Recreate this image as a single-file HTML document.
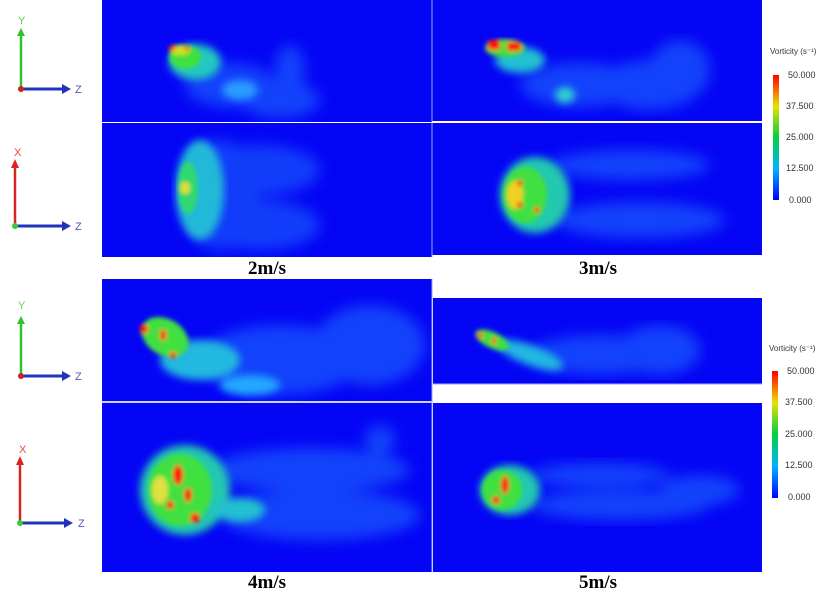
<!DOCTYPE html>
<html><head><meta charset="utf-8"><style>
html,body{margin:0;padding:0;background:#fff;width:822px;height:596px;overflow:hidden}
svg{display:block}
.lbl{font-family:"Liberation Serif",serif;font-weight:bold;font-size:19px}
.cb{font-family:"Liberation Sans",sans-serif;font-size:9px;fill:#333}
.cbt{font-family:"Liberation Sans",sans-serif;font-size:8px;fill:#333}
.ax{font-family:"Liberation Sans",sans-serif;font-size:11px}
</style></head><body>
<svg width="822" height="596" viewBox="0 0 822 596" xmlns="http://www.w3.org/2000/svg">
<defs>
<filter id="b2"><feGaussianBlur stdDeviation="2"/></filter>
<filter id="b4"><feGaussianBlur stdDeviation="4"/></filter>
<filter id="b7"><feGaussianBlur stdDeviation="7"/></filter>
<linearGradient id="cbg" x1="0" y1="1" x2="0" y2="0">
<stop offset="0" stop-color="#0000ff"/><stop offset="0.25" stop-color="#00b4ff"/>
<stop offset="0.5" stop-color="#00d040"/><stop offset="0.75" stop-color="#e8e000"/>
<stop offset="1" stop-color="#ff0000"/></linearGradient>
<clipPath id="c1"><rect x="102" y="0" width="330" height="122"/></clipPath>
<clipPath id="c2"><rect x="102" y="123" width="330" height="134"/></clipPath>
<clipPath id="c3"><rect x="432" y="0" width="330" height="122"/></clipPath>
<clipPath id="c4"><rect x="432" y="123" width="330" height="132"/></clipPath>
<clipPath id="c5"><rect x="102" y="279" width="330" height="122"/></clipPath>
<clipPath id="c6"><rect x="102" y="403" width="330" height="169"/></clipPath>
<clipPath id="c7"><rect x="433" y="298" width="329" height="86"/></clipPath>
<clipPath id="c8"><rect x="433" y="403" width="329" height="169"/></clipPath>
</defs>
<g fill="#0505f5">
<rect x="102" y="0" width="330" height="122"/>
<rect x="102" y="123" width="330" height="134"/>
<rect x="432" y="0" width="330" height="122"/>
<rect x="432" y="123" width="330" height="132"/>
<rect x="102" y="279" width="330" height="122"/>
<rect x="102" y="403" width="330" height="169"/>
<rect x="433" y="298" width="329" height="86"/>
<rect x="433" y="403" width="329" height="169"/>
</g>
<g stroke="#9aa6ff" stroke-width="1"><line x1="432" y1="0" x2="432" y2="257"/><line x1="432" y1="279" x2="432" y2="572"/><line x1="102" y1="402" x2="432" y2="402"/><line x1="433" y1="384" x2="762" y2="384"/><line x1="432" y1="122" x2="762" y2="122" stroke="#fff" stroke-width="2"/></g>

<g clip-path="url(#c1)">
<g filter="url(#b7)" fill="#1a6cff" opacity="0.6">
<ellipse cx="230" cy="85" rx="45" ry="22"/><ellipse cx="280" cy="100" rx="40" ry="18"/><ellipse cx="290" cy="70" rx="15" ry="25"/></g>
<g filter="url(#b4)"><ellipse cx="195" cy="62" rx="26" ry="18" fill="#20c8c0"/><ellipse cx="240" cy="90" rx="18" ry="10" fill="#2a9cff"/></g>
<g filter="url(#b2)"><ellipse cx="185" cy="57" rx="16" ry="12" fill="#40e040"/><ellipse cx="180" cy="50" rx="10" ry="5" fill="#d0e020"/><ellipse cx="172" cy="48" rx="3" ry="3" fill="#ff2000"/><ellipse cx="187" cy="48" rx="3" ry="2" fill="#ff2000"/></g>
</g>
<g clip-path="url(#c2)">
<g filter="url(#b7)" fill="#1a6cff" opacity="0.55"><ellipse cx="260" cy="170" rx="60" ry="25"/><ellipse cx="260" cy="225" rx="60" ry="25"/><ellipse cx="220" cy="195" rx="40" ry="55"/></g>
<g filter="url(#b4)"><ellipse cx="200" cy="190" rx="24" ry="50" fill="#20b8d8"/></g>
<g filter="url(#b2)"><ellipse cx="188" cy="188" rx="10" ry="26" fill="#30d870"/><ellipse cx="185" cy="188" rx="5" ry="6" fill="#e0e020"/></g>
</g>
<g clip-path="url(#c3)">
<g filter="url(#b7)" fill="#1a6cff" opacity="0.6"><ellipse cx="580" cy="85" rx="60" ry="22"/><ellipse cx="650" cy="85" rx="50" ry="25"/><ellipse cx="680" cy="70" rx="30" ry="30"/></g>
<g filter="url(#b4)"><ellipse cx="520" cy="60" rx="25" ry="13" fill="#20c0d0"/><ellipse cx="565" cy="95" rx="10" ry="8" fill="#30d0d0"/></g>
<g filter="url(#b2)"><ellipse cx="505" cy="48" rx="20" ry="9" fill="#40e040"/><rect x="488" y="40" width="12" height="10" fill="#ff1010"/><rect x="507" y="42" width="14" height="9" fill="#ff1010"/></g>
</g>
<g clip-path="url(#c4)">
<g filter="url(#b7)" fill="#1a6cff" opacity="0.6"><ellipse cx="630" cy="165" rx="80" ry="15"/><ellipse cx="640" cy="220" rx="85" ry="18"/></g>
<g filter="url(#b4)"><ellipse cx="535" cy="195" rx="35" ry="38" fill="#20c8b0"/></g>
<g filter="url(#b2)"><ellipse cx="525" cy="195" rx="22" ry="28" fill="#40e040"/><ellipse cx="515" cy="195" rx="8" ry="14" fill="#f0d020"/><circle cx="520" cy="183" r="3" fill="#ff1010"/><circle cx="520" cy="205" r="3" fill="#ff1010"/><circle cx="537" cy="210" r="3" fill="#ff1010"/></g>
</g>
<g clip-path="url(#c5)">
<g filter="url(#b7)" fill="#1a6cff" opacity="0.6"><ellipse cx="280" cy="360" rx="80" ry="35"/><ellipse cx="370" cy="345" rx="55" ry="40"/></g>
<g filter="url(#b4)"><ellipse cx="200" cy="360" rx="40" ry="20" fill="#20b8e0"/><ellipse cx="250" cy="385" rx="30" ry="10" fill="#20a8ff"/></g>
<g filter="url(#b2)"><ellipse cx="165" cy="337" rx="25" ry="18" fill="#40e040" transform="rotate(30 165 337)"/><rect x="140" y="325" width="8" height="8" fill="#ff1010"/><rect x="160" y="330" width="6" height="10" fill="#ff1010"/><rect x="170" y="352" width="6" height="6" fill="#ff1010"/></g>
</g>
<g clip-path="url(#c6)">
<g filter="url(#b7)" fill="#1a6cff" opacity="0.6"><ellipse cx="310" cy="470" rx="100" ry="22"/><ellipse cx="320" cy="515" rx="100" ry="25"/><ellipse cx="380" cy="440" rx="15" ry="15"/></g>
<g filter="url(#b4)"><ellipse cx="185" cy="490" rx="45" ry="45" fill="#20c8b0"/><ellipse cx="240" cy="510" rx="25" ry="12" fill="#20c0d0"/></g>
<g filter="url(#b2)"><ellipse cx="180" cy="490" rx="32" ry="36" fill="#40e040"/><ellipse cx="160" cy="490" rx="8" ry="14" fill="#e0e040"/><ellipse cx="178" cy="475" rx="5" ry="10" fill="#ff1010"/><ellipse cx="188" cy="495" rx="4" ry="7" fill="#ff1010"/><ellipse cx="195" cy="518" rx="5" ry="5" fill="#ff1010"/><ellipse cx="170" cy="505" rx="4" ry="4" fill="#ff1010"/></g>
</g>
<g clip-path="url(#c7)">
<g filter="url(#b7)" fill="#1a6cff" opacity="0.6"><ellipse cx="600" cy="355" rx="70" ry="20"/><ellipse cx="660" cy="350" rx="40" ry="25"/></g>
<g filter="url(#b4)"><ellipse cx="530" cy="355" rx="35" ry="10" fill="#20b8e0" transform="rotate(20 530 355)"/></g>
<g filter="url(#b2)"><ellipse cx="492" cy="340" rx="18" ry="8" fill="#40e040" transform="rotate(25 492 340)"/><rect x="478" y="333" width="5" height="5" fill="#ff1010"/><rect x="492" y="338" width="4" height="6" fill="#ff1010"/></g>
</g>
<g clip-path="url(#c8)">
<g filter="url(#b7)" fill="#1a6cff" opacity="0.6"><ellipse cx="600" cy="475" rx="70" ry="12"/><ellipse cx="620" cy="505" rx="90" ry="15"/><ellipse cx="700" cy="490" rx="40" ry="15"/></g>
<g filter="url(#b4)"><ellipse cx="510" cy="490" rx="30" ry="25" fill="#20c8b0"/></g>
<g filter="url(#b2)"><ellipse cx="502" cy="490" rx="20" ry="20" fill="#40e040"/><ellipse cx="505" cy="485" rx="4" ry="9" fill="#ff1010"/><ellipse cx="496" cy="500" rx="4" ry="4" fill="#ff1010"/></g>
</g>

<text class="lbl" x="267" y="274" text-anchor="middle">2m/s</text>
<text class="lbl" x="598" y="274" text-anchor="middle">3m/s</text>
<text class="lbl" x="267" y="588" text-anchor="middle">4m/s</text>
<text class="lbl" x="598" y="588" text-anchor="middle">5m/s</text>

<g>
<text class="cbt" x="770" y="54">Vorticity (s⁻¹)</text>
<rect x="773" y="75" width="6" height="125" fill="url(#cbg)"/>
<text class="cb" x="788" y="78">50.000</text><text class="cb" x="786" y="109">37.500</text><text class="cb" x="786" y="140">25.000</text><text class="cb" x="786" y="171">12.500</text><text class="cb" x="789" y="203">0.000</text>
<text class="cbt" x="769" y="351">Vorticity (s⁻¹)</text>
<rect x="772" y="371" width="6" height="127" fill="url(#cbg)"/>
<text class="cb" x="787" y="374">50.000</text><text class="cb" x="785" y="405">37.500</text><text class="cb" x="785" y="437">25.000</text><text class="cb" x="785" y="468">12.500</text><text class="cb" x="788" y="500">0.000</text>
</g>

<g>
<line x1="21" y1="88" x2="21" y2="34" stroke="#2fc22f" stroke-width="2.5"/><polygon points="17,36 25,36 21,28" fill="#2fc22f"/>
<text class="ax" x="18" y="24" fill="#6c6">Y</text>
<line x1="21" y1="89" x2="64" y2="89" stroke="#2233bb" stroke-width="3"/><polygon points="62,84 62,94 71,89" fill="#2233bb"/>
<text class="ax" x="75" y="93" fill="#55b">Z</text><circle cx="21" cy="89" r="3" fill="#c22"/>

<line x1="15" y1="225" x2="15" y2="165" stroke="#d22" stroke-width="2.5"/><polygon points="11,168 19,168 15,159" fill="#d22"/>
<text class="ax" x="14" y="156" fill="#e44">X</text>
<line x1="15" y1="226" x2="64" y2="226" stroke="#2233bb" stroke-width="3"/><polygon points="62,221 62,231 71,226" fill="#2233bb"/>
<text class="ax" x="75" y="230" fill="#55b">Z</text><circle cx="15" cy="226" r="3" fill="#3c3"/>

<line x1="21" y1="375" x2="21" y2="322" stroke="#2fc22f" stroke-width="2.5"/><polygon points="17,324 25,324 21,316" fill="#2fc22f"/>
<text class="ax" x="18" y="309" fill="#6c6">Y</text>
<line x1="21" y1="376" x2="64" y2="376" stroke="#2233bb" stroke-width="3"/><polygon points="62,371 62,381 71,376" fill="#2233bb"/>
<text class="ax" x="75" y="380" fill="#55b">Z</text><circle cx="21" cy="376" r="3" fill="#c22"/>

<line x1="20" y1="522" x2="20" y2="463" stroke="#d22" stroke-width="2.5"/><polygon points="16,465 24,465 20,456" fill="#d22"/>
<text class="ax" x="19" y="453" fill="#e44">X</text>
<line x1="20" y1="523" x2="66" y2="523" stroke="#2233bb" stroke-width="3"/><polygon points="64,518 64,528 73,523" fill="#2233bb"/>
<text class="ax" x="78" y="527" fill="#55b">Z</text><circle cx="20" cy="523" r="3" fill="#3c3"/>
</g>
</svg>
</body></html>
